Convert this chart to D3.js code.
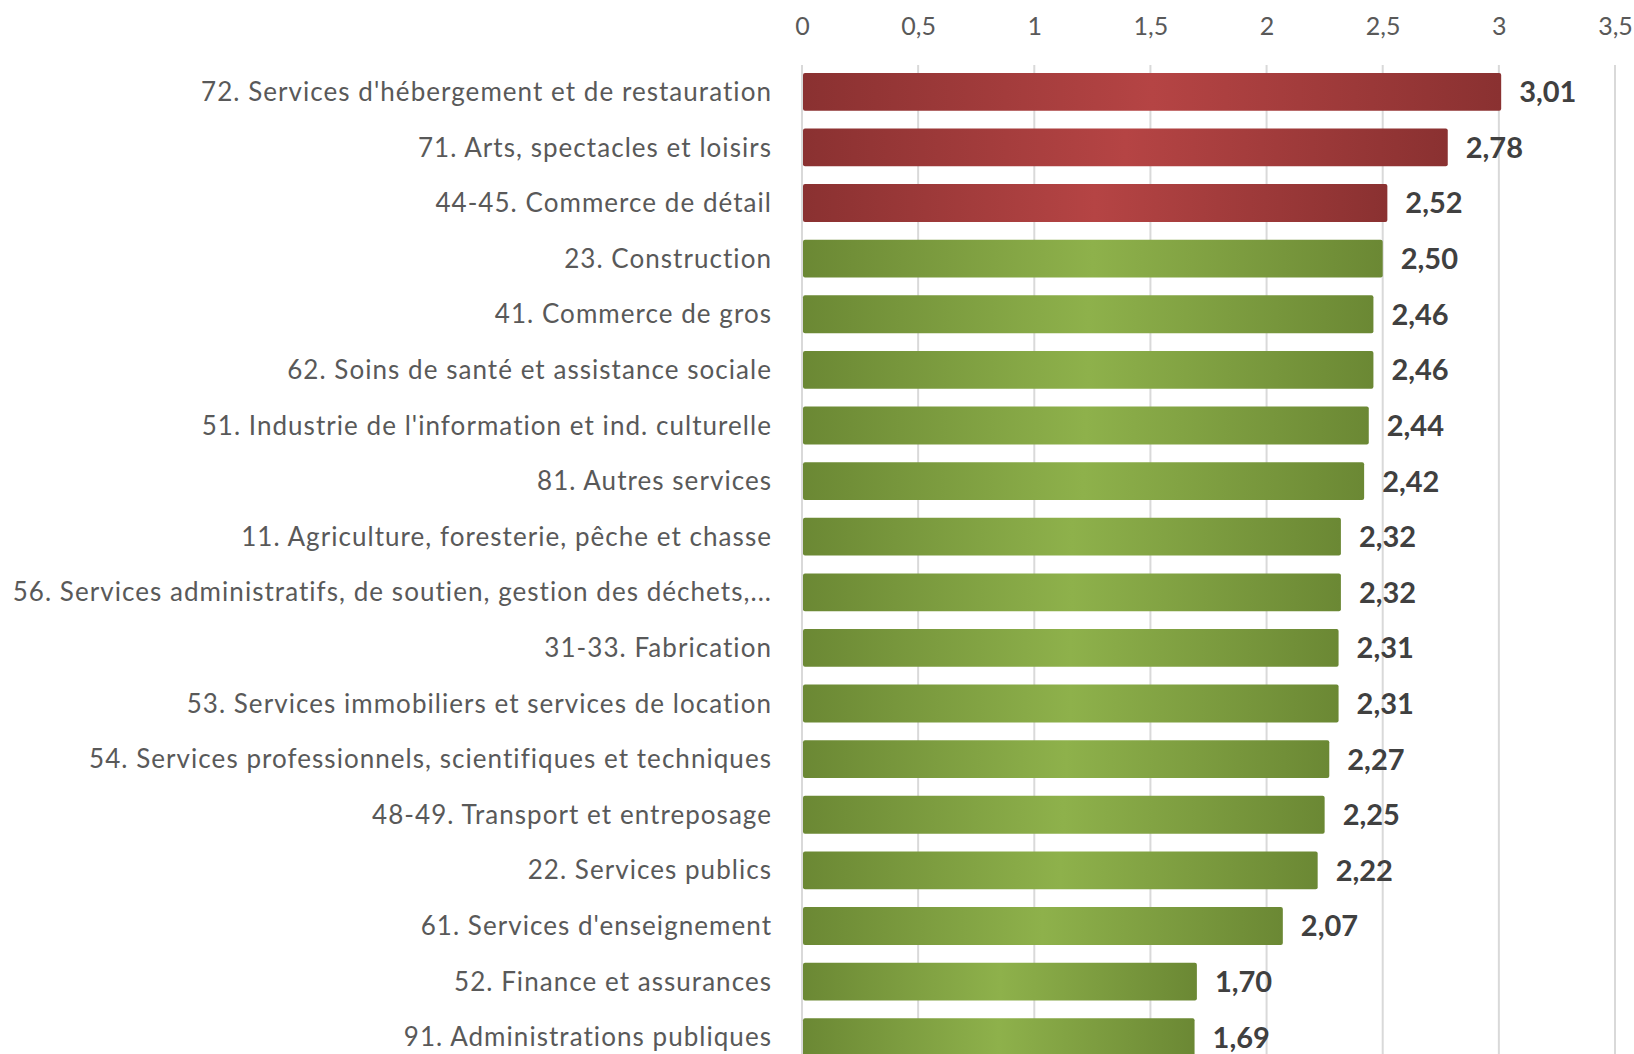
<!DOCTYPE html>
<html>
<head>
<meta charset="utf-8">
<script src="https://cdn.jsdelivr.net/npm/d3@7"></script>
<style>
  html, body { margin: 0; padding: 0; background: #fff; }
  svg { display: block; }
</style>
</head>
<body>
<div id="chart"></div>
<script>
// ── Data ───────────────────────────────────────────────────────────────

const categories = [
  "72. Services d'hébergement et de restauration",
  "71. Arts, spectacles et loisirs",
  "44-45. Commerce de détail",
  "23. Construction",
  "41. Commerce de gros",
  "62. Soins de santé et assistance sociale",
  "51. Industrie de l'information et ind. culturelle",
  "81. Autres services",
  "11. Agriculture, foresterie, pêche et chasse",
  "56. Services administratifs, de soutien, gestion des déchets,...",
  "31-33. Fabrication",
  "53. Services immobiliers et services de location",
  "54. Services professionnels, scientifiques et techniques",
  "48-49. Transport et entreposage",
  "22. Services publics",
  "61. Services d'enseignement",
  "52. Finance et assurances",
  "91. Administrations publiques"
];
const values = [3.01, 2.78, 2.52, 2.50, 2.46, 2.46, 2.44, 2.42, 2.32, 2.32, 2.31, 2.31, 2.27, 2.25, 2.22, 2.07, 1.70, 1.69];
const highlighted = ["72. Services d'hébergement et de restauration", "71. Arts, spectacles et loisirs", "44-45. Commerce de détail"];
const xTicks = [0, 0.5, 1, 1.5, 2, 2.5, 3, 3.5];

// ── Setup ──────────────────────────────────────────────────────────────

const W = 1634, H = 1054;
const M = { top: 64, left: 802, right: 19, bottom: -11 };
const FONT = "Lato, 'Open Sans', sans-serif";

const fr = d3.formatLocale({ decimal: ",", thousands: " ", grouping: [3], currency: ["", " €"] });
const fmtVal = fr.format(".2f");
const fmtTick = fr.format("~g");

const svg = d3.select("#chart").append("svg").attr("width", W).attr("height", H);

const defs = svg.append("defs");
function grad(id, edge, mid) {
  const g = defs.append("linearGradient").attr("id", id).attr("x1", "0%").attr("x2", "100%").attr("y1", "0%").attr("y2", "0%");
  g.append("stop").attr("offset", "0%").attr("stop-color", edge);
  g.append("stop").attr("offset", "50%").attr("stop-color", mid);
  g.append("stop").attr("offset", "100%").attr("stop-color", edge);
}
grad("gRed", "#8a3131", "#b54444");
grad("gGreen", "#6b8834", "#8eb14b");

const x = d3.scaleLinear().domain([0, 3.5]).range([M.left, W - M.right]);
const y = d3.scaleBand().domain(categories).range([M.top, H - M.bottom]).paddingInner(0.32).paddingOuter(0.16);

// ── Grid + axis ────────────────────────────────────────────────────────

svg.append("g").selectAll("line").data(xTicks).join("line")
  .attr("x1", d => x(d)).attr("x2", d => x(d))
  .attr("y1", M.top + 1).attr("y2", H)
  .attr("stroke", "#d9d9d9").attr("stroke-width", 2);

const xAxis = svg.append("g").attr("transform", `translate(0,${M.top})`)
  .call(d3.axisTop(x).tickValues(xTicks).tickFormat(fmtTick).tickSize(0).tickPadding(29));
xAxis.select(".domain").remove();
xAxis.selectAll("text")
  .attr("font-family", FONT).attr("font-size", 25)
  .attr("fill", "#595959");

// ── Category labels ────────────────────────────────────────────────────

const yAxis = svg.append("g").attr("transform", `translate(${M.left},0)`)
  .call(d3.axisLeft(y).tickSize(0).tickPadding(30));
yAxis.select(".domain").remove();
yAxis.selectAll("text")
  .attr("font-family", FONT).attr("font-size", 26)
  .attr("letter-spacing", 1.05)
  .attr("fill", "#595959").attr("dy", "0.35em");

// ── Bars ───────────────────────────────────────────────────────────────

const rows = categories.map((c, i) => ({ c, v: values[i], hi: highlighted.includes(c) }));

svg.append("g").selectAll("rect").data(rows).join("rect")
  .attr("x", x(0) + 1)
  .attr("y", d => y(d.c))
  .attr("width", d => x(d.v) - x(0) - 1)
  .attr("height", y.bandwidth())
  .attr("rx", 2)
  .attr("fill", d => d.hi ? "url(#gRed)" : "url(#gGreen)");

// ── Value labels ───────────────────────────────────────────────────────

svg.append("g").selectAll("text").data(rows).join("text")
  .attr("x", d => x(d.v) + 18)
  .attr("y", d => y(d.c) + y.bandwidth() / 2)
  .attr("dy", "0.36em")
  .attr("font-family", FONT).attr("font-size", 29).attr("font-weight", 700)
  .attr("fill", "#404040")
  .text(d => fmtVal(d.v));
</script>
</body>
</html>
